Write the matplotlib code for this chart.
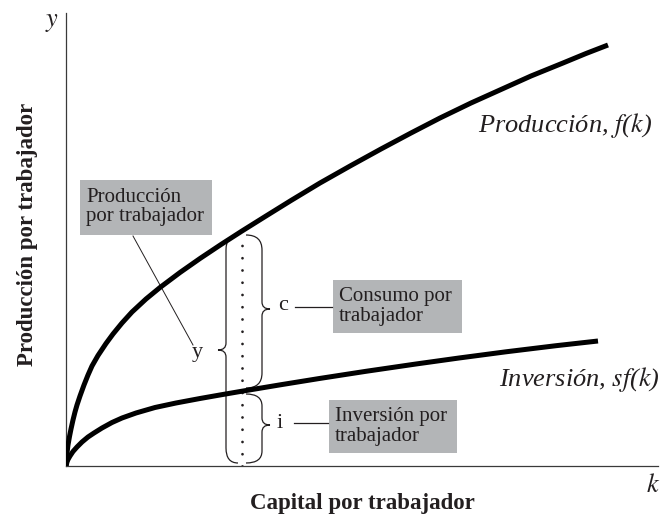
import matplotlib.pyplot as plt
from matplotlib.path import Path
from matplotlib.patches import PathPatch, Rectangle

plt.rcParams['font.family'] = ['Liberation Serif', 'DejaVu Serif']

# curves (k, output), arbitrary units
prod_k = [0, 1, 2, 3.5, 5, 7, 9, 11, 14, 18, 22, 26, 32, 40, 47, 56, 66, 80,
          94, 114, 134, 155, 176, 200, 225, 254, 285, 315, 345, 374, 405,
          435, 465, 497, 520, 542]
prod_y = [0, 13, 21, 29.5, 37, 46, 54, 61, 70, 81, 91, 100, 110.5, 122.5, 132,
          143, 154, 167, 178.5, 193.5, 207.5, 221.5, 235, 250, 265.5, 283,
          300.5, 317, 333, 348, 363, 376.5, 390, 403, 412.5, 421]
inv_k = [0, 1, 2, 4, 7, 11, 16, 22, 28, 36, 46, 56, 70, 89, 110, 134, 155,
         176, 215, 254, 300, 350, 393, 440, 490, 532]
inv_y = [0, 4, 6.5, 10, 14.5, 19, 24, 29, 33, 38, 43.5, 48, 53, 58.5, 63,
         67.5, 71.2, 74.8, 81.3, 87.6, 94.7, 102, 108, 114.2, 120.3, 125]

k_star = 176
y_star = 235
i_star = 75

curve_labels = ['Producción, $f$($k$)', 'Inversión, $sf$($k$)']
box_labels = ['Producción\npor trabajador', 'Consumo por\ntrabajador', 'Inversión por\ntrabajador']

ink = '#231f20'
box_gray = '#b3b5b7'
serif = ['Liberation Serif', 'DejaVu Serif']

fig = plt.figure(figsize=(6.62, 5.14), dpi=100)
ax = fig.add_axes([66 / 662, 48 / 514, 592 / 662, 453 / 514])
ax.set_xlim(0, 592)
ax.set_ylim(0, 453)
for side in ['top', 'right']:
    ax.spines[side].set_visible(False)
for side in ['left', 'bottom']:
    ax.spines[side].set_color('#3a3a3a')
    ax.spines[side].set_linewidth(0.9)
ax.set_xticks([])
ax.set_yticks([])

ax.plot(prod_k, prod_y, color='black', lw=3.6, solid_capstyle='butt',
        solid_joinstyle='round', zorder=5)
ax.plot(inv_k, inv_y, color='black', lw=3.6, solid_capstyle='butt',
        solid_joinstyle='round', zorder=5)

# dotted guide at k*
ax.plot([k_star, k_star], [0, y_star - 3], color=ink, lw=2.0,
        linestyle=(0, (0.01, 4.4)), dash_capstyle='round', zorder=3)


def brace(x0, xv, xt, ytop, ybot, ymid, r=15, r2=7):
    verts = [(x0, ytop), (xv, ytop), (xv, ytop - r),
             (xv, ymid + r2), (xv, ymid), (xt, ymid),
             (xv, ymid), (xv, ymid - r2),
             (xv, ybot + r), (xv, ybot), (x0, ybot)]
    codes = [Path.MOVETO, Path.CURVE3, Path.CURVE3,
             Path.LINETO, Path.CURVE3, Path.CURVE3,
             Path.CURVE3, Path.CURVE3,
             Path.LINETO, Path.CURVE3, Path.CURVE3]
    ax.add_patch(PathPatch(Path(verts, codes), fill=False, edgecolor=ink,
                           lw=0.9, zorder=4))


brace(172, 160, 152, y_star - 4, 3, 116)
brace(180, 196, 204, y_star - 4, i_star + 3, 157)
brace(180, 196, 204, i_star - 3, 3, 41, r=12)

# grey label boxes
boxes = [(14, 231, 132, 55), (267, 133, 129, 53), (263, 13, 128, 53)]
for (bx, by, bw, bh), lab in zip(boxes, box_labels):
    ax.add_patch(Rectangle((bx, by), bw, bh, facecolor=box_gray,
                           edgecolor='none', zorder=2))
    ax.text(bx + 6, by + bh / 2, lab, ha='left', va='center', fontsize=15,
            family=serif, color=ink, linespacing=1.0, zorder=3)

ax.text(131, 114, 'y', ha='center', va='center', fontsize=16, color=ink,
        family=serif)
ax.text(217, 160, 'c', ha='center', va='center', fontsize=16, color=ink,
        family=serif)
ax.text(214, 42, 'i', ha='center', va='center', fontsize=16, color=ink,
        family=serif)

ax.plot([67, 127], [230, 121], color=ink, lw=0.7)
ax.plot([229, 266], [159, 159], color=ink, lw=0.9)
ax.plot([228, 262], [43, 43], color=ink, lw=0.9)

ax.text(586, 341, curve_labels[0], ha='right', va='center', fontsize=19,
        style='italic', color=ink, family=serif, math_fontfamily='stix')
ax.text(594, 86, curve_labels[1], ha='right', va='center', fontsize=19,
        style='italic', color=ink, family=serif, math_fontfamily='stix')

ax.text(-14, 443, '$y$', ha='center', va='center', fontsize=19, color=ink,
        math_fontfamily='stix')
ax.text(587, -19, '$k$', ha='center', va='center', fontsize=19, color=ink,
        math_fontfamily='stix')
ax.text(296, -37, 'Capital por trabajador', ha='center', va='center',
        fontsize=16.5, fontweight='bold', color=ink, family=serif)
ax.text(-38, 232, 'Producción por trabajador', ha='center', va='center',
        rotation=90, fontsize=16.5, fontweight='bold', color=ink, family=serif)

fig.savefig('out.png', dpi=100)
